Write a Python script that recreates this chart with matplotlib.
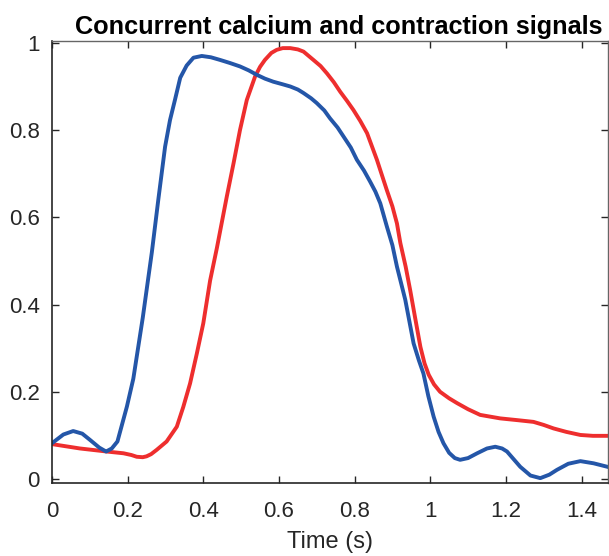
import matplotlib
matplotlib.use("Agg")
import matplotlib.pyplot as plt

# Calcium signal (blue)
t_ca = [0.0, 0.03, 0.056, 0.08, 0.10, 0.125, 0.143, 0.158, 0.173, 0.198, 0.215, 0.240, 0.264, 0.281,
        0.299, 0.312, 0.325, 0.339, 0.356, 0.374, 0.396, 0.420, 0.444, 0.470, 0.497, 0.520, 0.541,
        0.563, 0.585, 0.610, 0.630, 0.650, 0.665, 0.685, 0.700, 0.720, 0.735, 0.755, 0.771, 0.790,
        0.806, 0.825, 0.841, 0.855, 0.868, 0.885, 0.900,
        0.912, 0.934, 0.956, 0.970, 0.982, 0.995, 1.009, 1.022, 1.035, 1.05, 1.065, 1.079, 1.10, 1.124,
        1.150, 1.172, 1.190, 1.203, 1.220, 1.238, 1.265, 1.291, 1.315, 1.335, 1.365,
        1.397, 1.432, 1.473]
ca = [0.082, 0.102, 0.110, 0.104, 0.090, 0.072, 0.063, 0.070, 0.086, 0.166, 0.230, 0.370, 0.520, 0.640,
      0.762, 0.823, 0.869, 0.920, 0.948, 0.966, 0.970, 0.967, 0.961, 0.954, 0.946, 0.937, 0.927,
      0.918, 0.911, 0.905, 0.900, 0.893, 0.885, 0.873, 0.862, 0.845, 0.827, 0.806, 0.785, 0.760,
      0.732, 0.707, 0.682, 0.659, 0.632, 0.580, 0.536,
      0.487, 0.411, 0.311, 0.272, 0.242, 0.190, 0.143, 0.108, 0.082, 0.060, 0.048, 0.044, 0.048, 0.059,
      0.070, 0.074, 0.070, 0.063, 0.046, 0.028, 0.008, 0.002, 0.010, 0.021, 0.035,
      0.041, 0.036, 0.027]

# Contraction signal (red)
t_con = [0.0, 0.074, 0.145, 0.189, 0.210, 0.224, 0.240, 0.250, 0.262, 0.277, 0.303, 0.330, 0.347, 0.365,
         0.383, 0.400, 0.418, 0.436, 0.462, 0.480, 0.497, 0.515, 0.537, 0.550, 0.563,
         0.580, 0.594, 0.610, 0.630, 0.650, 0.665, 0.691, 0.710, 0.727, 0.745, 0.762, 0.780, 0.797,
         0.815, 0.833, 0.859, 0.885, 0.900,
         0.912, 0.921, 0.935, 0.947, 0.960, 0.974, 0.985, 0.996, 1.010, 1.026, 1.050, 1.071, 1.100,
         1.132, 1.185, 1.230, 1.273, 1.300, 1.326, 1.360, 1.397, 1.430, 1.473]
con = [0.080, 0.070, 0.063, 0.059, 0.055, 0.051, 0.050, 0.052, 0.057, 0.067, 0.086, 0.120, 0.165, 0.219,
       0.288, 0.357, 0.455, 0.530, 0.647, 0.724, 0.800, 0.869, 0.923, 0.945, 0.961,
       0.977, 0.984, 0.988, 0.988, 0.985, 0.980, 0.961, 0.947, 0.930, 0.910, 0.888, 0.867, 0.846,
       0.821, 0.793, 0.732, 0.663, 0.625,
       0.586, 0.541, 0.487, 0.433, 0.370, 0.303, 0.265, 0.239, 0.217, 0.200, 0.185, 0.174, 0.160,
       0.147, 0.139, 0.135, 0.131, 0.124, 0.116, 0.108, 0.101, 0.099, 0.099]

xticks = [0, 0.2, 0.4, 0.6, 0.8, 1.0, 1.2, 1.4]
xticklabels = ["0", "0.2", "0.4", "0.6", "0.8", "1", "1.2", "1.4"]
yticks = [0, 0.2, 0.4, 0.6, 0.8, 1.0]
yticklabels = ["0", "0.2", "0.4", "0.6", "0.8", "1"]

plt.rcParams['font.family'] = ['Liberation Sans', 'DejaVu Sans']

fig = plt.figure(figsize=(6.09, 5.56), dpi=100)
ax = fig.add_axes([52/609, 73.5/556, 556/609, 441.8/556])

ax.plot(t_con, con, color='#ee2e2e', lw=2.8, solid_joinstyle='round')
ax.plot(t_ca, ca, color='#2456a8', lw=2.8, solid_joinstyle='round')

ax.set_xlim(0, 1.47)
ax.set_ylim(-0.008, 1.005)
ax.set_xticks(xticks)
ax.set_xticklabels(xticklabels)
ax.set_yticks(yticks)
ax.set_yticklabels(yticklabels)
ax.tick_params(direction='in', top=True, right=True, length=5, width=1,
               labelsize=16, colors='#262626')
ax.tick_params(axis='x', pad=13)
ax.tick_params(axis='y', pad=9)
for s in ['left', 'bottom']:
    ax.spines[s].set_color('#262626')
    ax.spines[s].set_linewidth(1.2)
for s in ['top', 'right']:
    ax.spines[s].set_color('#666666')
    ax.spines[s].set_linewidth(1.0)

ax.set_xlabel('Time (s)', fontsize=17, color='#262626', labelpad=7)
ax.set_title('Concurrent calcium and contraction signals', fontsize=18.2,
             fontweight='bold', pad=5, x=0.515)

fig.savefig('out.png', dpi=100)
